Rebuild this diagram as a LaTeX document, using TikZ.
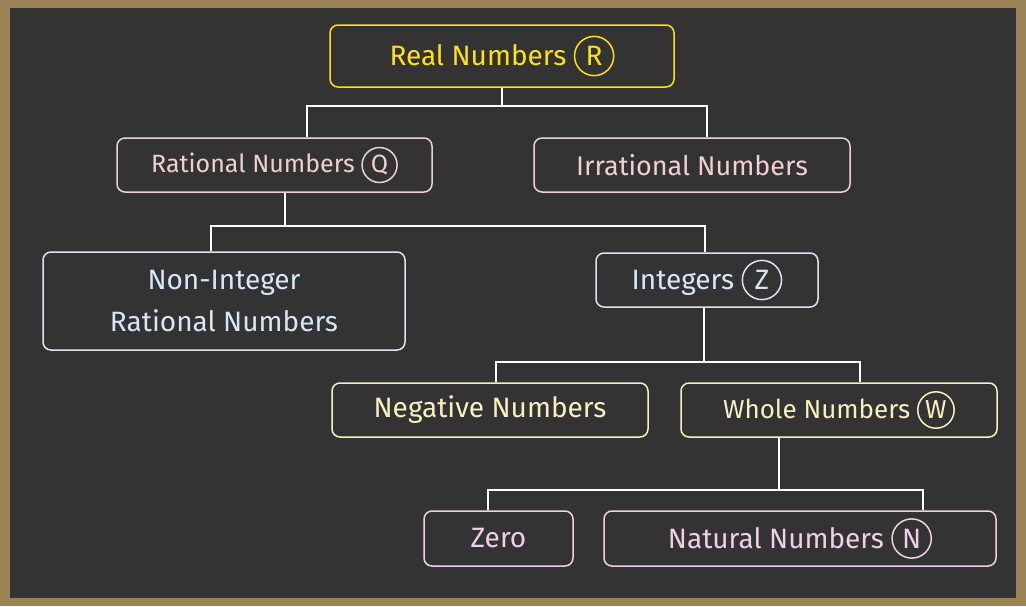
\documentclass[tikz,border=0pt]{standalone}
\usepackage{fontspec}
\setmainfont{Fira Sans}
\usetikzlibrary{calc}
\definecolor{board}{HTML}{333333}
\definecolor{frame}{HTML}{9A8356}
\definecolor{cyel}{HTML}{FFE01A}
\definecolor{cpink}{HTML}{F2D0D0}
\definecolor{cblue}{HTML}{D8E6F5}
\definecolor{clyel}{HTML}{F8F0C0}
\definecolor{cmag}{HTML}{F0D0E8}
\newcommand{\circl}[1]{\tikz[baseline=(c.base)]\node[draw,circle,line width=1.5pt,inner sep=1.5pt,minimum size=1.4em](c){#1};}
\tikzset{
  box/.style={draw,rounded corners=8pt,line width=1.5pt,align=center,inner sep=0pt},
  link/.style={draw=white,line width=2.5pt}
}
\begin{document}
\begin{tikzpicture}[x=1pt,y=-1pt]
\fill[frame] (0,0) rectangle (1026,606);
\fill[board] (10,8) rectangle (1016,598);
\node[box,cyel,minimum width=344pt,minimum height=62pt,font=\fontsize{28}{32}\selectfont] (real) at (502,56) {Real Numbers\ \circl{R}};
\node[box,cpink,minimum width=315pt,minimum height=54pt,font=\fontsize{25}{28}\selectfont] (rat) at (274.5,165) {Rational Numbers\ \circl{Q}};
\node[box,cpink,minimum width=316pt,minimum height=54pt,font=\fontsize{27}{30}\selectfont] (irr) at (692,165) {Irrational Numbers};
\node[box,cblue,minimum width=362pt,minimum height=98pt,font=\fontsize{28}{42}\selectfont] (nonint) at (224,301) {Non-Integer\\Rational Numbers};
\node[box,cblue,minimum width=222pt,minimum height=54pt,font=\fontsize{28}{32}\selectfont] (int) at (707,280) {Integers\ \circl{Z}};
\node[box,clyel,minimum width=316pt,minimum height=54pt,font=\fontsize{28}{32}\selectfont] (neg) at (490,410) {Negative Numbers};
\node[box,clyel,minimum width=316pt,minimum height=54pt,font=\fontsize{26}{30}\selectfont] (whole) at (839,410) {Whole Numbers\ \circl{W}};
\node[box,cmag,minimum width=149pt,minimum height=55pt,font=\fontsize{28}{32}\selectfont] (zero) at (498.5,538.5) {Zero};
\node[box,cmag,minimum width=392pt,minimum height=55pt,font=\fontsize{28}{32}\selectfont] (nat) at (800,538.5) {Natural Numbers\ \circl{N}};
\draw[link] (real.south) -- ++(0,18) coordinate (a1);
\draw[link] (rat.north -| 307,0) |- (a1) -| (irr.north -| 707,0);
\draw[link] (rat.south -| 285,0) -- (285,226) coordinate (b1);
\draw[link] (nonint.north -| 211,0) |- (b1) -| (int.north -| 705,0);
\draw[link] (int.south -| 704,0) -- (704,362) coordinate (c1);
\draw[link] (neg.north -| 496,0) |- (c1) -| (whole.north -| 860,0);
\draw[link] (whole.south -| 779,0) -- (779,490) coordinate (d1);
\draw[link] (zero.north -| 488,0) |- (d1) -| (nat.north -| 923,0);
\end{tikzpicture}
\end{document}
